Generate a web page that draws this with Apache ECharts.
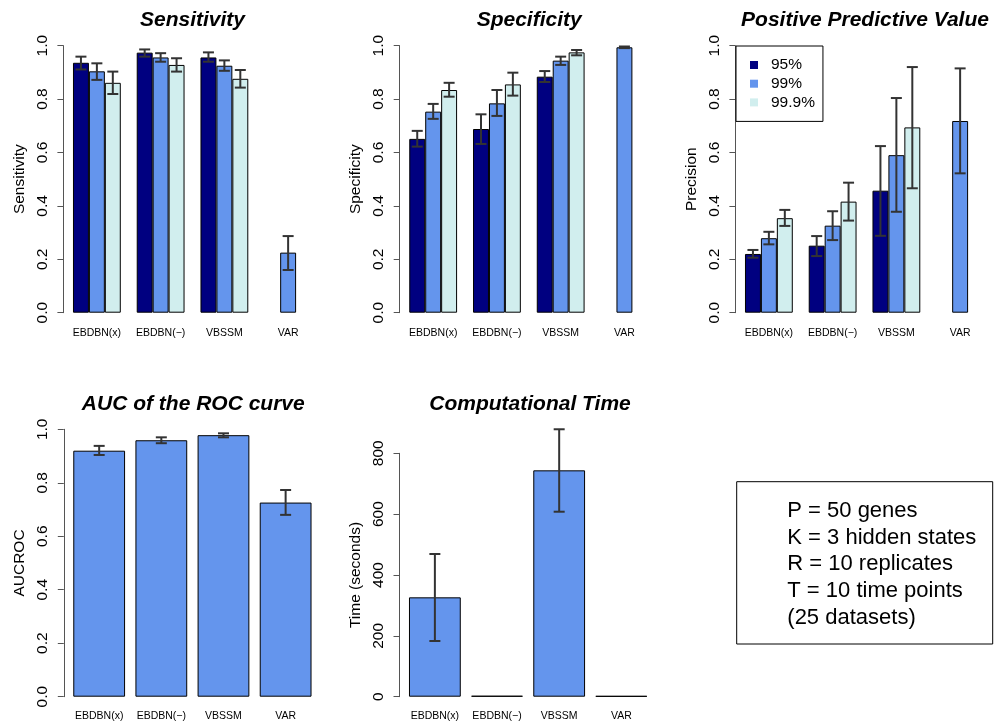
<!DOCTYPE html>
<html>
<head>
<meta charset="utf-8">
<script src="https://cdn.jsdelivr.net/npm/echarts@6/dist/echarts.min.js"></script>
<style>
html,body{margin:0;padding:0;background:#fff;}
#chart{width:994px;height:723px;}
</style>
</head>
<body>
<div id="chart"></div>
<script>
// ---------------- data ----------------
const categories = ['EBDBN(x)', 'EBDBN(\u2212)', 'VBSSM', 'VAR'];
const levels = ['95%', '99%', '99.9%'];

// Sensitivity
const sens95 = [0.936, 0.974, 0.956, null];
const sens95Lo = [0.911, 0.959, 0.940, null];
const sens95Hi = [0.959, 0.986, 0.975, null];
const sens99 = [0.904, 0.956, 0.925, 0.225];
const sens99Lo = [0.872, 0.940, 0.906, 0.160];
const sens99Hi = [0.934, 0.972, 0.945, 0.287];
const sens999 = [0.861, 0.928, 0.876, null];
const sens999Lo = [0.819, 0.903, 0.843, null];
const sens999Hi = [0.903, 0.953, 0.909, null];

// Specificity
const spec95 = [0.651, 0.688, 0.884, null];
const spec95Lo = [0.622, 0.632, 0.864, null];
const spec95Hi = [0.681, 0.743, 0.905, null];
const spec99 = [0.753, 0.784, 0.944, 0.994];
const spec99Lo = [0.726, 0.737, 0.928, 0.991];
const spec99Hi = [0.782, 0.834, 0.959, 0.997];
const spec999 = [0.834, 0.855, 0.975, null];
const spec999Lo = [0.809, 0.813, 0.964, null];
const spec999Hi = [0.861, 0.899, 0.984, null];

// Positive predictive value
const ppv95 = [0.220, 0.251, 0.457, null];
const ppv95Lo = [0.206, 0.212, 0.288, null];
const ppv95Hi = [0.235, 0.287, 0.624, null];
const ppv99 = [0.279, 0.326, 0.590, 0.718];
const ppv99Lo = [0.256, 0.272, 0.378, 0.522];
const ppv99Hi = [0.303, 0.380, 0.804, 0.915];
const ppv999 = [0.354, 0.416, 0.694, null];
const ppv999Lo = [0.325, 0.345, 0.466, null];
const ppv999Hi = [0.385, 0.487, 0.920, null];

// AUC of ROC
const auc = [0.920, 0.959, 0.978, 0.726];
const aucLo = [0.904, 0.948, 0.970, 0.680];
const aucHi = [0.938, 0.970, 0.985, 0.773];

// Computational time (seconds)
const time = [326.6, 3, 744, 2.5];
const timeLo = [183, null, 608, null];
const timeHi = [469, null, 879, null];

const unitTicks = [0, 0.2, 0.4, 0.6, 0.8, 1.0];
const timeTicks = [0, 200, 400, 600, 800];

const infoLines = ['P = 50 genes', 'K = 3 hidden states', 'R = 10 replicates', 'T = 10 time points', '(25 datasets)'];

// ---------------- styles ----------------
const FONT = "'Liberation Sans', Arial, Helvetica, sans-serif";
const colors = ['#000080', '#6495ED', '#D1EEEE'];
const AXIS_COL = '#555';

const chart = echarts.init(document.getElementById('chart'), null, {renderer: 'canvas'});

const grids = [
  {left: 65.0, top: 45.7, width: 255, height: 267},
  {left: 401.3, top: 45.7, width: 255, height: 267},
  {left: 737.0, top: 45.7, width: 255, height: 267},
  {left: 68.1, top: 429.3, width: 248.6, height: 267.4},
  {left: 403.8, top: 453.3, width: 248.6, height: 243.4}
];

function xAx(i) {
  return {
    type: 'category', gridIndex: i, data: categories,
    axisLine: {show: false}, axisTick: {show: false},
    axisLabel: {fontFamily: FONT, fontSize: 10.5, color: '#000', margin: i < 3 ? 15 : 14, interval: 0},
    splitLine: {show: false}
  };
}
function yAx(i, name, max, interval, offset) {
  return {
    type: 'value', gridIndex: i, min: 0, max: max, interval: interval, offset: offset,
    name: name, nameLocation: 'middle', nameRotate: 90, nameGap: 36,
    nameTextStyle: {fontFamily: FONT, fontSize: 15.5, color: '#000'},
    axisLine: {show: true, lineStyle: {color: AXIS_COL, width: 1}},
    axisTick: {show: true, length: 6, lineStyle: {color: AXIS_COL, width: 1}},
    axisLabel: {fontFamily: FONT, fontSize: 15.5, color: '#000', rotate: 90, margin: 13,
      formatter: v => (max <= 1 ? v.toFixed(1) : String(v))},
    splitLine: {show: false}
  };
}

function barSeries(i, name, data, color, gap) {
  return {
    type: 'bar', name: name, xAxisIndex: i, yAxisIndex: i, data: data,
    barGap: '0%', barCategoryGap: gap,
    itemStyle: {color: color, borderColor: '#000', borderWidth: 1},
    emphasis: {disabled: true}, animation: false, z: 2
  };
}

// error bars: data rows [categoryIndex, low, high, slot]; nSlots bars per category
function errSeries(i, rows, nSlots) {
  return {
    type: 'custom', xAxisIndex: i, yAxisIndex: i, data: rows, clip: false, z: 5,
    animation: false, silent: true,
    encode: {x: 0, y: [1, 2]},
    renderItem: function (params, api) {
      const ci = api.value(0), lo = api.value(1), hi = api.value(2), slot = api.value(3);
      const catW = api.size([1, 0])[0];
      const barW = nSlots === 3 ? catW / 4 : catW / 1.2;
      const off = nSlots === 3 ? (slot - 1) * barW : 0;
      const pLo = api.coord([ci, lo]);
      const pHi = api.coord([ci, hi]);
      const x = pLo[0] + off;
      const cap = 5.5;
      const st = {stroke: '#333', lineWidth: 2};
      return {
        type: 'group',
        children: [
          {type: 'line', shape: {x1: x, y1: pLo[1], x2: x, y2: pHi[1]}, style: st},
          {type: 'line', shape: {x1: x - cap, y1: pLo[1], x2: x + cap, y2: pLo[1]}, style: st},
          {type: 'line', shape: {x1: x - cap, y1: pHi[1], x2: x + cap, y2: pHi[1]}, style: st}
        ]
      };
    }
  };
}

function rowsFrom(los, his, slot) {
  const r = [];
  for (let c = 0; c < los.length; c++) {
    if (los[c] != null && his[c] != null) r.push([c, los[c], his[c], slot]);
  }
  return r;
}

const topSets = [
  {means: [sens95, sens99, sens999], los: [sens95Lo, sens99Lo, sens999Lo], his: [sens95Hi, sens99Hi, sens999Hi]},
  {means: [spec95, spec99, spec999], los: [spec95Lo, spec99Lo, spec999Lo], his: [spec95Hi, spec99Hi, spec999Hi]},
  {means: [ppv95, ppv99, ppv999], los: [ppv95Lo, ppv99Lo, ppv999Lo], his: [ppv95Hi, ppv99Hi, ppv999Hi]}
];

const series = [];
topSets.forEach((s, i) => {
  let rows = [];
  for (let k = 0; k < 3; k++) {
    series.push(barSeries(i, levels[k], s.means[k], colors[k], '25%'));
    rows = rows.concat(rowsFrom(s.los[k], s.his[k], k));
  }
  series.push(errSeries(i, rows, 3));
});
series.push(barSeries(3, 'AUC', auc, colors[1], '16.667%'));
series.push(errSeries(3, rowsFrom(aucLo, aucHi, 0), 1));
series.push(barSeries(4, 'Time', time, colors[1], '16.667%'));
series.push(errSeries(4, rowsFrom(timeLo, timeHi, 0), 1));

const titleStyle = {fontFamily: FONT, fontSize: 21, fontWeight: 'bold', fontStyle: 'italic', fill: '#000'};
function titleText(t, x, y) {
  return {type: 'text', x: x, y: y, silent: true,
    style: Object.assign({text: t, textAlign: 'center', textVerticalAlign: 'middle'}, titleStyle)};
}

const option = {
  backgroundColor: '#fff',
  animation: false,
  grid: grids,
  xAxis: [0, 1, 2, 3, 4].map(xAx),
  yAxis: [
    yAx(0, 'Sensitivity', 1, 0.2, 1.6),
    yAx(1, 'Specificity', 1, 0.2, 1.6),
    yAx(2, 'Precision', 1, 0.2, 1.6),
    yAx(3, 'AUCROC', 1, 0.2, 4.3),
    yAx(4, 'Time (seconds)', 800, 200, 4.3)
  ],
  legend: {
    show: true, orient: 'vertical', left: 736, top: 46,
    data: levels, selectedMode: false,
    icon: 'rect', itemWidth: 8, itemHeight: 8, itemGap: 2.7,
    padding: [11, 8, 11, 14],
    borderColor: '#000', borderWidth: 1, backgroundColor: '#fff',
    itemStyle: {borderWidth: 0},
    textStyle: {fontFamily: FONT, fontSize: 15.5, color: '#000', lineHeight: 16, padding: [0, 0, 0, 8]}
  },
  graphic: [
    titleText('Sensitivity', 192.5, 20),
    titleText('Specificity', 529.2, 20),
    titleText('Positive Predictive Value', 865, 20),
    titleText('AUC of the ROC curve', 193.3, 404),
    titleText('Computational Time', 530, 404),
    {type: 'rect', silent: true, shape: {x: 736.7, y: 481.7, width: 256, height: 162.3},
      style: {fill: 'none', stroke: '#000', lineWidth: 1}},
    {type: 'text', silent: true, x: 787.3, y: 497.5,
      style: {text: infoLines.join('\n'), fontFamily: FONT, fontSize: 22, lineHeight: 26.7,
        fill: '#000', textAlign: 'left', textVerticalAlign: 'top'}}
  ],
  series: series
};
chart.setOption(option);
</script>
</body>
</html>
